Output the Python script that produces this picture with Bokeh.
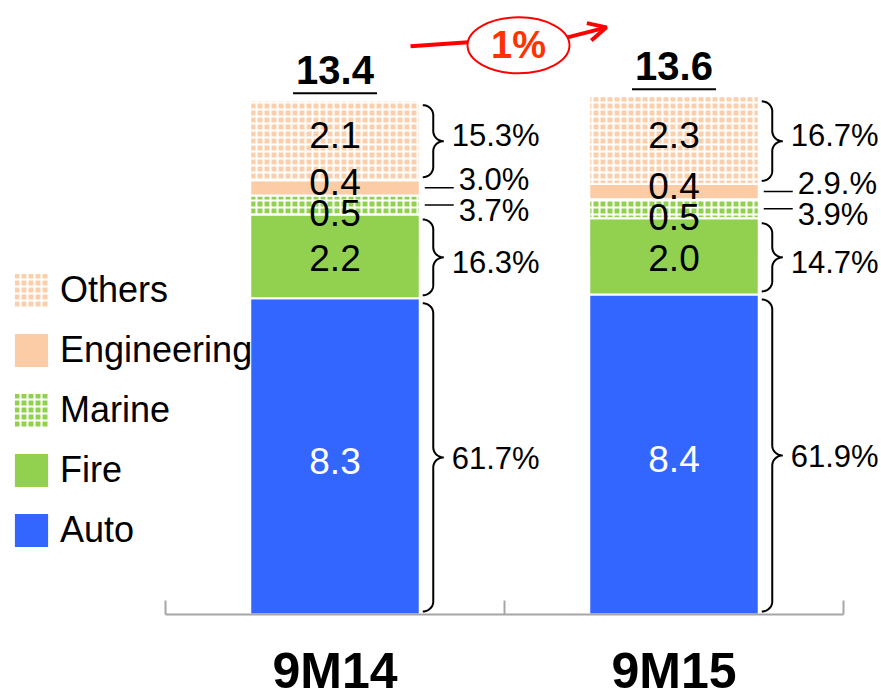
import numpy as np
from bokeh.plotting import figure
from bokeh.models import ColumnDataSource, Legend, LegendItem, Arrow, OpenHead, Range1d
from bokeh.core.properties import value
from bokeh.embed import file_html
from bokeh.resources import INLINE

# ---------------- data ----------------
categories = ["9M14", "9M15"]
series = ["Auto", "Fire", "Marine", "Engineering", "Others"]
auto = [8.3, 8.4]
fire = [2.2, 2.0]
marine = [0.5, 0.5]
engineering = [0.4, 0.4]
others = [2.1, 2.3]
totals = [13.4, 13.6]
share_9m14 = ["61.7%", "16.3%", "3.7%", "3.0%", "15.3%"]
share_9m15 = ["61.9%", "14.7%", "3.9%", "2.9.%", "16.7%"]
growth_label = "1%"

# ---------------- styles ----------------
FONT = "Liberation Sans"
colors = ["#3366FF", "#92D050", "#92D050", "#FBCCA6", "#FBCFAB"]
patterns = [" ", " ", "+", " ", "+"]
label_colors = ["white", "black", "black", "black", "black"]
value_yoff = [5, 2, 8, -6, -5]
pct_yoff = [2, 6, 6, -8, -5]
brace_kind = ["brace", "brace", "line", "line", "brace"]

W, H = 881, 700
X_PX = 339.0   # px per category unit
Y_PX = 38.1    # px per value unit
X0_PX = 165.0  # canvas px of x = 0
Y0_PX = 614.0  # canvas px (from top) of y = 0


def dx(px):
    return px / X_PX


def dy(px):
    return px / Y_PX


p = figure(width=W, height=H,
           x_range=Range1d(-X0_PX / X_PX, (W - X0_PX) / X_PX),
           y_range=Range1d(-(H - Y0_PX) / Y_PX, Y0_PX / Y_PX),
           output_backend="svg", toolbar_location=None,
           x_axis_location=None, y_axis_location=None,
           min_border=0, outline_line_color=None)
p.grid.visible = False

n = len(categories)
xc = [i + 0.5 for i in range(n)]
BW = 0.5
data = dict(x=xc, Auto=auto, Fire=fire, Marine=marine,
            Engineering=engineering, Others=others)
src = ColumnDataSource(data)

renderers = p.vbar_stack(series, x="x", width=BW, source=src,
                         fill_color=colors, line_color="white", line_width=2,
                         hatch_pattern=patterns, hatch_color="white",
                         hatch_scale=7, hatch_weight=2)

# stack geometry
vals = np.array([auto, fire, marine, engineering, others])  # (series, cat)
tops = np.cumsum(vals, axis=0)
bots = tops - vals
mids = (tops + bots) / 2

# value labels inside bars
vx, vy, vt, vc, vo = [], [], [], [], []
for s in range(len(series)):
    for c in range(n):
        vx.append(xc[c]); vy.append(mids[s, c]); vt.append(f"{vals[s, c]:.1f}")
        vc.append(label_colors[s]); vo.append(value_yoff[s])
p.text(x="x", y="y", text="t", text_color="c", y_offset="o",
       source=ColumnDataSource(dict(x=vx, y=vy, t=vt, c=vc, o=vo)),
       text_font=value(FONT), text_font_size="37px",
       text_align="center", text_baseline="middle")

# share labels, braces, leader lines
shares = [share_9m14, share_9m15]
px_, py_, pt_, po_, pxo = [], [], [], [], []
bxs, bys = [], []
lx0, lx1, ly = [], [], []
t = np.linspace(0, np.pi / 2, 12)
for c in range(n):
    right = xc[c] + BW / 2
    for s in range(len(series)):
        px_.append(right); py_.append(mids[s, c]); pt_.append(shares[c][s])
        po_.append(pct_yoff[s])
        if brace_kind[s] == "brace":
            pxo.append(32)
            top = tops[s, c] - dy(5)
            bot = bots[s, c] + dy(3)
            mid = (top + bot) / 2
            x0 = right + dx(3)
            w = dx(21)
            r = dy(10)
            xs = []; ys = []
            xs += list(x0 + (w / 2) * np.sin(t)); ys += list(top - r + r * np.cos(t))
            xs += list(x0 + w - (w / 2) * np.cos(t)); ys += list(mid + r - r * np.sin(t))
            xs += list(x0 + w - (w / 2) * np.sin(t)); ys += list(mid - r + r * np.cos(t))
            xs += list(x0 + (w / 2) * np.cos(t)); ys += list(bot + r - r * np.sin(t))
            bxs.append(xs); bys.append(ys)
        else:
            pxo.append(39)
            lx0.append(right + dx(5)); lx1.append(right + dx(34)); ly.append(mids[s, c])

p.multi_line(xs=bxs, ys=bys, line_color="black", line_width=2)
p.segment(x0=lx0, y0=ly, x1=lx1, y1=ly, line_color="black", line_width=1.5)
p.text(x="x", y="y", text="t", y_offset="o", x_offset="xo",
       source=ColumnDataSource(dict(x=px_, y=py_, t=pt_, o=po_, xo=pxo)),
       text_font=value(FONT), text_font_size="31px", text_color="black",
       text_align="left", text_baseline="middle")

# totals with underline
stack_top = tops[-1]
p.text(x=xc, y=list(stack_top), text=[f"{v:.1f}" for v in totals], y_offset=-30,
       text_font=value(FONT), text_font_size="40px", text_font_style="bold",
       text_align="center", text_baseline="middle", text_color="black")
p.segment(x0=[x - dx(42) for x in xc], y0=list(stack_top + dy(7)),
          x1=[x + dx(42) for x in xc], y1=list(stack_top + dy(7)),
          line_color="black", line_width=2)

# baseline axis with boundary ticks
p.segment(x0=[0], y0=[0], x1=[n], y1=[0], line_color="#A6A6A6", line_width=2)
p.segment(x0=list(range(n + 1)), y0=[0] * (n + 1), x1=list(range(n + 1)),
          y1=[dy(14)] * (n + 1), line_color="#A6A6A6", line_width=2)
p.text(x=xc, y=[0] * n, text=categories, y_offset=56,
       text_font=value(FONT), text_font_size="50px", text_font_style="bold",
       text_align="center", text_baseline="middle", text_color="black")

# growth annotation
ex = float(np.mean(xc)) + dx(14)
ey = float(stack_top.max()) + dy(51)
p.segment(x0=[ex - dx(108)], y0=[ey - dy(1)], x1=[ex - dx(50)], y1=[ey + dy(3)],
          line_color="#FF0000", line_width=4)
p.ellipse(x=[ex], y=[ey], width=dx(102), height=dy(56), fill_color="white",
          line_color="#FF0000", line_width=2)
p.text(x=[ex], y=[ey], text=[growth_label], text_font=value(FONT),
       text_font_size="38px", text_font_style="bold", text_color="#FF3300",
       text_align="center", text_baseline="middle")
p.add_layout(Arrow(end=OpenHead(size=18, line_color="#FF0000", line_width=4),
                   x_start=ex + dx(49), y_start=ey + dy(8),
                   x_end=ex + dx(88), y_end=ey + dy(18),
                   line_color="#FF0000", line_width=4))

# legend
items = [LegendItem(label=s, renderers=[r]) for s, r in zip(series, renderers)][::-1]
legend = Legend(items=items, location=(9, 148), glyph_width=44, glyph_height=44,
                label_height=44, label_standoff=7, spacing=16, padding=0, margin=0,
                border_line_color=None, background_fill_alpha=0,
                label_text_font=FONT, label_text_font_size="36px",
                label_text_color="black")
p.add_layout(legend)

open("out.html", "w").write(file_html(p, INLINE))
